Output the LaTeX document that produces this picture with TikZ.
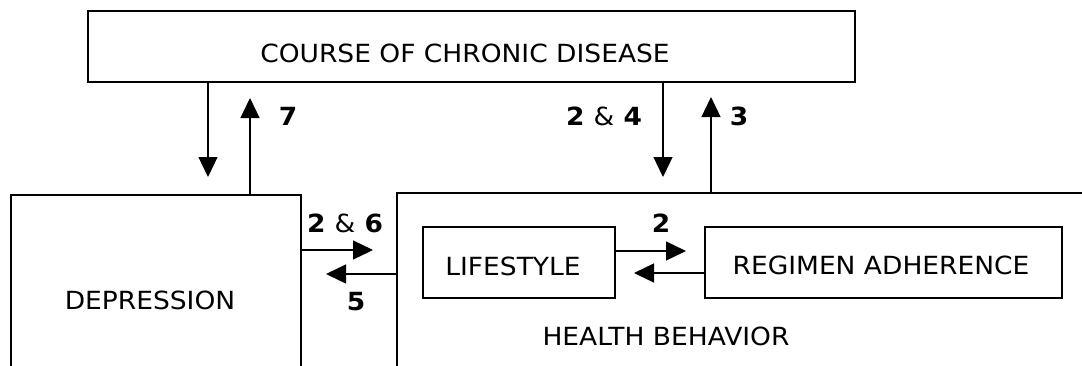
\documentclass[tikz,border=0pt]{standalone}
\usepackage{fontspec}
\setmainfont{DejaVu Sans}[FakeStretch=1.06]
\usetikzlibrary{arrows.meta}
\begin{document}
\begin{tikzpicture}[x=1pt,y=-1pt,
  box/.style={draw,line width=1.3pt,inner sep=0pt,outer sep=0pt},
  lbl/.style={anchor=base,inner sep=0pt,font=\fontsize{25}{30}\selectfont},
  num/.style={anchor=base,inner sep=0pt,font=\fontsize{25}{30}\selectfont\bfseries},
  link/.style={line width=1.3pt,-{Triangle[length=20pt,width=19pt]}}]
\useasboundingbox (0,0) rectangle (1082,365);
\clip (0,0) rectangle (1082,365);

% boxes (the two lower ones run past the bottom/right edge)
\node[box,minimum width=767pt,minimum height=71pt] (course) at (471.5,46.5) {};
\node[box,minimum width=290pt,minimum height=225pt] (dep) at (156,307.5) {};
\node[box,minimum width=723pt,minimum height=227pt] (health) at (758.5,306.5) {};
\node[box,minimum width=192pt,minimum height=71pt] (life) at (519,262.5) {};
\node[box,minimum width=357pt,minimum height=71pt] (reg) at (883.5,262.5) {};

% box texts
\node[lbl] (courseT) at (465,62) {COURSE OF CHRONIC DISEASE};
\node[lbl] (depT) at (150,309) {DEPRESSION};
\node[lbl] (lifeT) at (513,275) {LIFESTYLE};
\node[lbl] (regT) at (881,274) {REGIMEN ADHERENCE};
\node[lbl] (healthT) at (666,345) {HEALTH BEHAVIOR};

% arrow end points
\coordinate (e1) at (208,177);
\coordinate (e7) at (250,98);
\coordinate (e24) at (663,177);
\coordinate (e3) at (711,97);
\coordinate (e26) at (373,250);
\coordinate (e5) at (326,274);
\coordinate (e2) at (686,251);
\coordinate (eR) at (634,273);

% connectors
\draw[link] (course.south -| e1) -- (e1);
\draw[link] (dep.north -| e7) -- (e7);
\draw[link] (course.south -| e24) -- (e24);
\draw[link] (health.north -| e3) -- (e3);
\draw[link] (dep.east |- e26) -- (e26);
\draw[link] (health.west |- e5) -- (e5);
\draw[link] (life.east |- e2) -- (e2);
\draw[link] (reg.west |- eR) -- (eR);

% connector labels
\node[num] (n7) at (288,125) {7};
\node[num] (n24) at (604,125) {2 \textmd{\&} 4};
\node[num] (n3) at (739,125) {3};
\node[num] (n26) at (345,232) {2 \textmd{\&} 6};
\node[num] (n5) at (356,310) {5};
\node[num] (n2) at (661,232) {2};
\end{tikzpicture}
\end{document}
